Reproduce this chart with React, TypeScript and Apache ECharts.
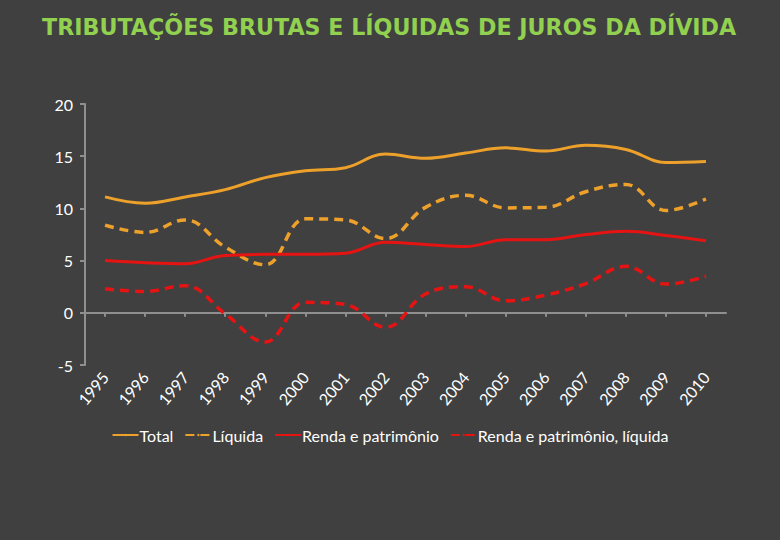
import React, { useEffect, useRef } from "react";
import * as echarts from "echarts";

const years = ["1995","1996","1997","1998","1999","2000","2001","2002","2003","2004","2005","2006","2007","2008","2009","2010"];
const total = [11.1, 10.5, 11.1, 11.8, 12.95, 13.6, 13.9, 15.2, 14.8, 15.3, 15.8, 15.5, 16.05, 15.65, 14.4, 14.5];
const liquida = [8.4, 7.7, 8.9, 6.3, 4.6, 9.0, 8.9, 7.1, 10.1, 11.25, 10.05, 10.1, 11.6, 12.3, 9.8, 10.9];
const renda = [5.0, 4.8, 4.7, 5.5, 5.6, 5.6, 5.7, 6.75, 6.55, 6.35, 7.0, 7.0, 7.5, 7.8, 7.4, 6.9];
const rendaLiquida = [2.3, 2.05, 2.6, -0.1, -2.8, 1.0, 0.8, -1.4, 1.8, 2.5, 1.15, 1.7, 2.8, 4.45, 2.75, 3.5];
const seriesNames = ["Total", "Líquida", "Renda e patrimônio", "Renda e patrimônio, líquida"];

const ORANGE = "#EDA12A";
const RED = "#E61313";
const AXIS = "#8f8f8f";
const FONT = "Lato, 'Open Sans', sans-serif";

export default function App() {
  const ref = useRef<HTMLDivElement>(null);
  useEffect(() => {
    const chart = echarts.init(ref.current!, null, { renderer: "svg" });
    const mk = (name: string, data: number[], color: string, dashed: boolean) => ({
      name,
      type: "line",
      data,
      smooth: 0.4,
      symbol: "none",
      xAxisIndex: 0,
      lineStyle: { color, width: dashed ? 3.5 : 3, type: dashed ? [9, 6] : "solid" },
      itemStyle: { color },
    });
    chart.setOption({
      animation: false,
      backgroundColor: "#404040",
      title: {
        text: "TRIBUTAÇÕES BRUTAS E LÍQUIDAS DE JUROS DA DÍVIDA",
        left: 37,
        top: 11,
        textStyle: { color: "#92D050", fontSize: 22.2, fontWeight: "bold", fontFamily: "'DejaVu Sans', sans-serif" },
      },
      legend: {
        data: seriesNames,
        top: 422,
        left: "center",
        itemWidth: 26,
        itemHeight: 3,
        itemGap: 11,
        textStyle: { color: "#ffffff", fontSize: 16, fontFamily: FONT, padding: [0, 0, 0, -4] },
      },
      grid: { left: 85, top: 104, right: 54, bottom: 175 },
      xAxis: [
        {
          type: "category",
          data: years,
          position: "bottom",
          boundaryGap: true,
          axisLine: { show: false, onZero: false },
          axisTick: { show: false },
          axisLabel: { rotate: 50, color: "#ffffff", fontSize: 16, fontFamily: FONT, margin: 9, interval: 0 },
        },
        {
          type: "category",
          data: years,
          position: "bottom",
          boundaryGap: true,
          axisLine: { show: true, onZero: true, lineStyle: { color: AXIS, width: 2 } },
          axisTick: { show: true, alignWithLabel: true, length: 4, inside: false, lineStyle: { color: AXIS, width: 2 } },
          axisLabel: { show: false },
        },
      ],
      yAxis: {
        type: "value",
        min: -5,
        max: 20,
        interval: 5,
        axisLine: { show: true, lineStyle: { color: AXIS, width: 2 } },
        axisTick: { show: true, length: 5, lineStyle: { color: AXIS, width: 2 } },
        axisLabel: { color: "#ffffff", fontSize: 16, fontFamily: FONT, margin: 12 },
        splitLine: { show: false },
      },
      series: [
        mk(seriesNames[0], total, ORANGE, false),
        mk(seriesNames[1], liquida, ORANGE, true),
        mk(seriesNames[2], renda, RED, false),
        mk(seriesNames[3], rendaLiquida, RED, true),
      ],
    });
    return () => chart.dispose();
  }, []);
  return <div ref={ref} style={{ width: 780, height: 540, position: "absolute", left: 0, top: 0 }} />;
}
